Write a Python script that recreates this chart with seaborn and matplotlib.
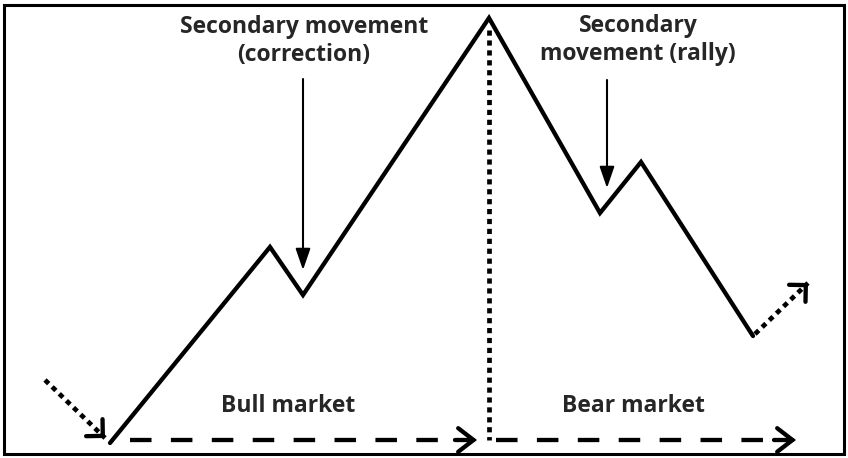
import matplotlib
matplotlib.use("Agg")
import matplotlib.pyplot as plt
import seaborn as sns
import pandas as pd

# Dow theory sketch, values are in picture units (x right, y down)
path_x = [110, 270, 303, 489, 600, 641, 753]
path_y = [443, 247, 295, 18, 213, 162, 336]

lead_in_x = [45, 105]
lead_in_y = [380, 438]
lead_out_x = [755, 808]
lead_out_y = [334, 283]

peak_line_x = [489, 489]
peak_line_y = [30, 440]

bull_x = [130, 477]
bear_x = [496, 796]
trend_y = 440

labels = ["Secondary movement\n(correction)", "Secondary\nmovement (rally)",
          "Bull market", "Bear market"]
label_x = [304, 638, 288, 633]
label_y = [41, 40, 406, 406]

note_x = [303, 607]
note_top = [79, 80]
note_tip = [270, 188]

sns.set_style("white")
plt.rcParams['font.family'] = ['Open Sans', 'DejaVu Sans']

fig = plt.figure(figsize=(8.48, 4.58), dpi=100)
ax = fig.add_axes([0, 0, 1, 1])
ax.set_xlim(0, 848)
ax.set_ylim(458, 0)
ax.axis('off')

lw = 3.1

# frame
ax.add_patch(plt.Rectangle((4, 5), 840, 449, fill=False, lw=2.2, color='black'))

df = pd.DataFrame({'x': path_x, 'y': path_y})
sns.lineplot(data=df, x='x', y='y', sort=False, color='black', lw=lw, ax=ax,
             solid_joinstyle='miter')

dot = (0, (1.1, 1))
ax.plot(lead_in_x, lead_in_y, color='black', lw=lw + 0.3, linestyle=dot)
ax.plot(lead_out_x, lead_out_y, color='black', lw=lw + 0.3, linestyle=dot)
ax.plot(peak_line_x, peak_line_y, color='black', lw=lw + 0.3, linestyle=dot)

# dotted arrow heads (right-angle corners)
for (x0, y0, x1, y1) in [(lead_in_x[0], lead_in_y[0], lead_in_x[1], lead_in_y[1]),
                         (lead_out_x[0], lead_out_y[0], lead_out_x[1], lead_out_y[1])]:
    ax.annotate('', xy=(x1, y1), xytext=(x1 - (x1 - x0) * 0.05, y1 - (y1 - y0) * 0.05),
                arrowprops=dict(arrowstyle='->,head_length=0.85,head_width=0.85',
                                mutation_scale=10, lw=lw, color='black',
                                shrinkA=0, shrinkB=0, joinstyle='miter'))

dash = (0, (5, 4.5))
for xs in [bull_x, bear_x]:
    ax.plot([xs[0], xs[1] - 22], [trend_y, trend_y], color='black', lw=lw,
            linestyle=dash)
    ax.annotate('', xy=(xs[1], trend_y), xytext=(xs[1] - 22, trend_y),
                arrowprops=dict(arrowstyle='->,head_length=1.1,head_width=0.85',
                                mutation_scale=10, lw=lw, color='black',
                                shrinkA=0, shrinkB=0, joinstyle='miter'))

for x, y0, y1 in zip(note_x, note_top, note_tip):
    ax.annotate('', xy=(x, y1), xytext=(x, y0),
                arrowprops=dict(arrowstyle='-|>,head_length=1.3,head_width=0.45',
                                mutation_scale=10, lw=1.5, color='black',
                                shrinkA=0, shrinkB=0))

for t, x, y in zip(labels, label_x, label_y):
    ax.text(x, y, t, ha='center', va='center', fontsize=16.5, fontweight='bold',
            linespacing=1.25)

fig.savefig('out.png', dpi=100)
